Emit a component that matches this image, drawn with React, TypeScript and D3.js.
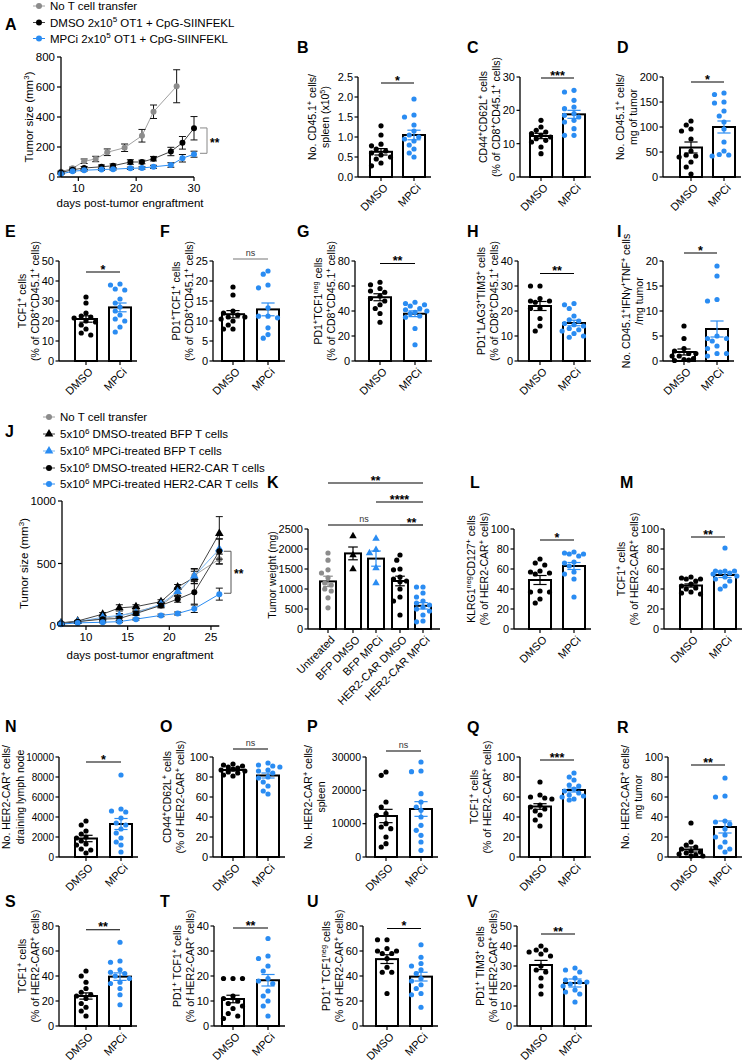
import React from 'react';
import * as d3 from 'd3';

const FONT = '"Liberation Sans", Arial, Helvetica, sans-serif';
const BLUE = '#2a8cf2';
const GRAY = '#8c8c8c';
const BLACK = '#000000';

// ---------------- Panel A (OT1 tumor growth) ----------------
const aDaysNoT = [7, 9, 11, 13, 15, 18, 21, 23, 27];
const aNoT = [35, 58, 105, 120, 165, 195, 275, 435, 605];
const aNoTErr = [5, 8, 15, 18, 22, 25, 42, 45, 110];
const aDays = [7, 9, 11, 14, 16, 19, 21, 23, 26, 28, 30];
const aDmso = [30, 48, 60, 68, 75, 100, 100, 122, 170, 228, 325];
const aDmsoErr = [5, 6, 10, 12, 12, 15, 12, 15, 28, 42, 78];
const aMpci = [20, 38, 45, 50, 52, 58, 60, 68, 80, 125, 152];
const aMpciErr = [3, 5, 6, 6, 6, 8, 8, 10, 15, 25, 20];
const aYTicks = [0, 200, 400, 600, 800];
const aXTicks = [10, 20, 30];
const aLegend = ['No T cell transfer', 'DMSO 2x10^{5} OT1 + CpG-SIINFEKL', 'MPCi 2x10^{5} OT1 + CpG-SIINFEKL'];

// ---------------- Panel J (CAR-T tumor growth) ----------------
const jDays = [7, 9, 12, 14, 16, 19, 21, 23, 26];
const jNoT = [25, 35, 60, 80, 115, 165, 265, 405, 535];
const jNoTErr = [5, 5, 10, 15, 15, 20, 30, 50, 40];
const jBfpDmso = [25, 40, 95, 145, 155, 195, 312, 388, 740];
const jBfpDmsoErr = [5, 5, 12, 25, 15, 15, 20, 50, 135];
const jBfpMpci = [20, 35, 70, 85, 105, 175, 275, 400, 615];
const jBfpMpciErr = [5, 5, 10, 15, 15, 15, 30, 60, 80];
const jCarDmso = [20, 35, 55, 60, 100, 165, 215, 270, 598];
const jCarDmsoErr = [5, 5, 10, 15, 15, 15, 25, 95, 100];
const jCarMpci = [15, 25, 30, 35, 55, 85, 100, 138, 255];
const jCarMpciErr = [3, 5, 5, 8, 8, 10, 12, 30, 48];
const jYTicks = [0, 500, 1000];
const jXTicks = [10, 15, 20, 25];
const jLegend = [
  'No T cell transfer',
  '5x10^{6} DMSO-treated BFP T cells',
  '5x10^{6} MPCi-treated BFP T cells',
  '5x10^{6} DMSO-treated HER2-CAR T cells',
  '5x10^{6} MPCi-treated HER2-CAR T cells',
];

// ---------------- Two-group scatter bar panels ----------------
const groupNames = ['DMSO', 'MPCi'];

const bDmso = [1.28, 1.05, 0.82, 0.78, 0.7, 0.65, 0.6, 0.55, 0.5, 0.45, 0.35, 0.28];
const bMpci = [1.95, 1.55, 1.5, 1.3, 1.15, 1.05, 1.0, 0.95, 0.9, 0.8, 0.7, 0.6, 0.5];
const bMean = [0.63, 1.05];
const bSem = [0.08, 0.12];
const bTicks = [0, 0.5, 1.0, 1.5, 2.0, 2.5];

const cDmso = [17, 15, 14, 13.5, 13, 12.5, 12, 11.5, 11, 10.5, 9, 7];
const cMpci = [26, 25.5, 23, 21, 20.5, 19, 18.5, 18, 17, 16.5, 14.5, 12.5, 12.5];
const cMean = [12.3, 18.8];
const cSem = [0.8, 1.2];
const cTicks = [0, 10, 20, 30];

const dDmso = [112, 104, 96, 92, 76, 52, 44, 42, 40, 30, 6, 20];
const dMpci = [168, 165, 150, 148, 132, 122, 110, 96, 70, 52, 45, 44, 42];
const dMean = [59, 100];
const dSem = [11, 12];
const dTicks = [0, 50, 100, 150, 200];

const eDmso = [32, 29, 24, 22.5, 22, 21.5, 20, 19.5, 18, 16, 14, 13];
const eMpci = [38.5, 38, 36, 35.5, 31, 29, 27, 25, 23, 21, 20, 17, 14.5];
const eMean = [21, 26.8];
const eSem = [1.6, 2.2];
const eTicks = [0, 10, 20, 30, 40, 50];

const fDmso = [18.5, 16.5, 12.5, 12, 11.5, 11, 11, 10.5, 10, 9, 8, 8];
const fMpci = [22.5, 21.7, 19, 18.3, 13.3, 11.2, 11.2, 10.8, 8.3, 6.6, 5.7];
const fMean = [11.7, 12.9];
const fSem = [0.9, 1.6];
const fTicks = [0, 5, 10, 15, 20, 25];

const gDmso = [63, 61, 58, 56, 55, 52, 50, 48, 45, 42, 38, 31];
const gMpci = [47, 46, 45, 44, 42, 41, 40, 39, 38, 36, 35, 26, 13];
const gMean = [51, 37.8];
const gSem = [2.8, 2.3];
const gTicks = [0, 20, 40, 60, 80];

const hDmso = [30, 30, 25, 24, 24, 23.5, 21, 21, 17, 14, 12];
const hMpci = [23, 22.5, 21, 18, 16.5, 16, 15, 14.5, 14, 13, 12.5, 12, 11, 10, 9.5];
const hMean = [22, 15.2];
const hSem = [1.8, 1.1];
const hTicks = [0, 10, 20, 30, 40];

const iDmso = [7, 4.5, 2.5, 2, 1.5, 1.5, 1, 1, 0.5, 0.3, 0.2, 0.1];
const iMpci = [19, 17, 12.3, 12, 5, 4.5, 4.5, 4, 3, 2.5, 1.5, 1.5, 1];
const iMean = [1.8, 6.4];
const iSem = [0.6, 1.6];
const iTicks = [0, 5, 10, 15, 20];

const lDmso = [70, 66, 64, 58, 57, 56, 55, 37, 37, 30, 26, 38];
const lMpci = [77, 76, 75, 75, 73, 67, 66, 63, 57, 55, 50, 32];
const lMean = [49, 63];
const lSem = [4.5, 3.5];

const mDmso = [52, 51, 50, 50, 48, 45, 43, 41, 40, 37, 36, 35];
const mMpci = [81, 58, 58, 58, 57, 56, 55, 53, 52, 50, 48, 43, 40];
const mMean = [43.5, 54];
const mSem = [1.6, 2.5];
const pct100Ticks = [0, 20, 40, 60, 80, 100];

const nDmso = [3600, 3200, 2600, 2300, 2000, 1900, 1600, 1300, 1200, 800, 700, 400];
const nMpci = [8200, 4800, 4600, 4500, 3900, 3400, 3200, 2800, 2400, 1900, 1500, 1200, 500];
const nMean = [1850, 3300];
const nSem = [320, 550];
const nTicks = [0, 2000, 4000, 6000, 8000, 10000];

const oDmso = [93, 92, 91, 90, 89, 88, 87, 86, 85, 84, 82, 81];
const oMpci = [94, 92, 91, 90, 87, 86, 84, 80, 79, 75, 71, 66, 63];
const oMean = [87, 81.5];
const oSem = [1, 2.5];

const pDmso = [25500, 24500, 16500, 15000, 13000, 12500, 10000, 9000, 8500, 6000, 4000, 3000];
const pMpci = [28500, 25800, 25600, 19000, 16500, 15000, 14000, 12000, 9500, 8000, 6500, 4500, 2000];
const pMean = [12300, 14400];
const pSem = [2000, 2200];
const pTicks = [0, 10000, 20000, 30000];

const qDmso = [75, 62, 60, 59, 58, 52, 50, 48, 46, 42, 37, 31];
const qMpci = [84, 80, 77, 72, 71, 68, 66, 64, 62, 61, 60, 58, 57];
const qMean = [50.5, 67];
const qSem = [2.8, 2];

const rDmso = [34, 15, 12, 10, 8, 6, 5, 4, 3, 2, 1, 1];
const rMpci = [79, 61, 60, 36, 35, 33, 28, 22, 20, 15, 10, 8, 5];
const rMean = [7.5, 30];
const rSem = [2.6, 6];

const sDmso = [44, 40, 35, 30, 27, 25, 24, 22, 18, 15, 12, 8];
const sMpci = [67, 52, 51, 45, 43, 42, 40, 38, 35, 34, 30, 25, 17];
const sMean = [24, 39.5];
const sSem = [2.5, 3];
const sTicks = [0, 20, 40, 60, 80];

const tDmso = [19, 19, 19, 12, 11, 10, 9, 8, 7, 5, 4, 3];
const tMpci = [35, 28, 27, 24, 22, 19, 18, 17, 14, 12, 10, 8, 4];
const tMean = [10.8, 18.3];
const tSem = [1.5, 2.3];
const tTicks = [0, 10, 20, 30, 40];

const uDmso = [69, 69, 62, 60, 60, 58, 58, 54, 47, 43, 43, 26];
const uMpci = [65, 55, 50, 48, 45, 42, 38, 36, 33, 30, 26, 25, 15];
const uMean = [53.5, 39.5];
const uSem = [3.5, 3.5];
const uTicks = [0, 20, 40, 60, 80];

const vDmso = [40, 38, 38, 37, 36, 35, 30, 28, 27, 24, 20, 16];
const vMpci = [29, 28, 27, 24, 23, 22, 22, 21, 20, 18, 17, 16, 12];
const vMean = [30.5, 21.5];
const vSem = [2.3, 2];
const vTicks = [0, 10, 20, 30, 40, 50];

// ---------------- Panel K (tumor weight) ----------------
const kNames = ['Untreated', 'BFP DMSO', 'BFP MPCi', 'HER2-CAR DMSO', 'HER2-CAR MPCi'];
const kUntreated = [1900, 1720, 1480, 1400, 1280, 1150, 1100, 1000, 950, 780, 530];
const kBfpDmso = [2320, 1850, 1500];
const kBfpMpci = [2260, 1980, 1900, 1520, 1150];
const kCarDmso = [1850, 1720, 1500, 1480, 1300, 1250, 1200, 1180, 1000, 800, 700, 350];
const kCarMpci = [1050, 1050, 900, 800, 700, 650, 600, 550, 500, 450, 350, 200, 180];
const kMean = [1190, 1890, 1760, 1200, 580];
const kSem = [130, 160, 190, 120, 80];
const kTicks = [0, 500, 1000, 1500, 2000, 2500];

// ---------------- helpers ----------------
type Shape = 'circle' | 'triangle';
type Group = { name: string; values: number[]; mean: number; sem: number; color: string; shape: Shape };
type Sig = { from: number; to: number; value: number; text: string; color?: string };
type BarCfg = {
  id: string; lx: number; ly: number; x0: number; zero: number; centers: number[]; barW: number;
  max: number; ticks: number[]; fmt?: (v: number) => string; ylab: string[]; extra?: number; tickFs?: number;
  groups: Group[]; sigs: Sig[];
};

function textWidth(s: string, fs: number) {
  let w = 0;
  for (const ch of s) w += ch === '.' ? 0.278 : 0.556;
  return w * fs;
}

function Rich({ s, fs }: { s: string; fs: number }) {
  const parts: { t: string; sup: boolean }[] = [];
  const re = /\^\{([^}]*)\}/g;
  let last = 0;
  let m: RegExpExecArray | null;
  while ((m = re.exec(s))) {
    if (m.index > last) parts.push({ t: s.slice(last, m.index), sup: false });
    parts.push({ t: m[1], sup: true });
    last = re.lastIndex;
  }
  if (last < s.length) parts.push({ t: s.slice(last), sup: false });
  const shift = fs * 0.38;
  let raised = false;
  return (
    <>
      {parts.map((p, i) => {
        let dy = 0;
        if (p.sup && !raised) { dy = -shift; raised = true; }
        else if (!p.sup && raised) { dy = shift; raised = false; }
        return (
          <tspan key={i} dy={dy || undefined} fontSize={p.sup ? fs * 0.7 : undefined}>
            {p.t}
          </tspan>
        );
      })}
    </>
  );
}

function swarm(vals: number[], y: (v: number) => number, maxOff: number, minDist: number) {
  const order = vals.map((_, i) => i).sort((a, b) => vals[b] - vals[a]);
  const placed: { dx: number; py: number }[] = [];
  const out: number[] = new Array(vals.length).fill(0);
  const step = maxOff / 2;
  const cands = [0, -step, step, -maxOff, maxOff, -maxOff * 1.25, maxOff * 1.25];
  for (const i of order) {
    const py = y(vals[i]);
    let chosen = 0;
    let found = false;
    let best = -1;
    for (const c of cands) {
      const dmin = placed.length ? Math.min(...placed.map((p) => Math.hypot(p.dx - c, p.py - py))) : Infinity;
      if (dmin >= minDist) { chosen = c; found = true; break; }
      if (dmin > best) { best = dmin; chosen = c; }
    }
    if (!found && best < 0) chosen = 0;
    placed.push({ dx: chosen, py });
    out[i] = chosen;
  }
  return out;
}

function Marker({ x, y, shape, color, r }: { x: number; y: number; shape: Shape; color: string; r: number }) {
  if (shape === 'triangle') {
    const p = d3.symbol().type(d3.symbolTriangle).size(r * r * 3.6)();
    return <path d={p || ''} transform={`translate(${x},${y})`} fill={color} />;
  }
  return <circle cx={x} cy={y} r={r} fill={color} />;
}

function PanelLabel({ id, x, y }: { id: string; x: number; y: number }) {
  return (
    <text x={x} y={y} fontSize={16} fontWeight="bold" fill={BLACK}>{id}</text>
  );
}

function BarPanel({ p }: { p: BarCfg }) {
  const top = p.zero - 100;
  const y = d3.scaleLinear().domain([0, p.max]).range([p.zero, top]);
  const xEnd = p.centers[p.centers.length - 1] + 17;
  const fmt = p.fmt || ((v: number) => String(v));
  const tfs = p.tickFs || 11;
  const maxW = Math.max(...p.ticks.map((t) => textWidth(fmt(t), tfs)));
  const fs = 10.5;
  const nl = p.ylab.length;
  const lastBase = p.x0 - 5 - maxW - 2.5 - (p.extra || 0);
  const midY = (p.zero + top) / 2 - (nl > 1 ? 10 : 4);
  const hw = Math.min(11, p.barW / 2) - 1.5;
  return (
    <g>
      <PanelLabel id={p.id} x={p.lx} y={p.ly} />
      {/* bars */}
      {p.groups.map((g, i) => (
        <rect key={'b' + i} x={p.centers[i] - p.barW / 2} y={y(g.mean)} width={p.barW}
          height={p.zero - y(g.mean)} fill="#fff" stroke={BLACK} strokeWidth={2} />
      ))}
      {/* points */}
      {p.groups.map((g, i) => {
        const offs = swarm(g.values, y, hw, 5.6);
        return (
          <g key={'p' + i}>
            {g.values.map((v, j) => (
              <Marker key={j} x={p.centers[i] + offs[j]} y={y(v)} shape={g.shape} color={g.color} r={2.6} />
            ))}
          </g>
        );
      })}
      {/* error bars */}
      {p.groups.map((g, i) => {
        const c = p.centers[i];
        const cw = p.barW * 0.3;
        return (
          <g key={'e' + i} stroke={g.color} strokeWidth={1.2}>
            <line x1={c} x2={c} y1={y(g.mean - g.sem)} y2={y(g.mean + g.sem)} />
            <line x1={c - cw} x2={c + cw} y1={y(g.mean + g.sem)} y2={y(g.mean + g.sem)} />
            <line x1={c - cw} x2={c + cw} y1={y(g.mean - g.sem)} y2={y(g.mean - g.sem)} />
          </g>
        );
      })}
      {/* axes */}
      <line x1={p.x0} x2={p.x0} y1={p.zero} y2={top} stroke={BLACK} strokeWidth={1.3} />
      <line x1={p.x0} x2={xEnd} y1={p.zero} y2={p.zero} stroke={BLACK} strokeWidth={1.3} />
      {p.ticks.map((t) => (
        <g key={'t' + t}>
          <line x1={p.x0 - 3.5} x2={p.x0} y1={y(t)} y2={y(t)} stroke={BLACK} strokeWidth={1.2} />
          <text x={p.x0 - 5} y={y(t)} dy="0.35em" textAnchor="end" fontSize={tfs}>{fmt(t)}</text>
        </g>
      ))}
      {p.groups.map((g, i) => (
        <g key={'x' + i}>
          <line x1={p.centers[i]} x2={p.centers[i]} y1={p.zero} y2={p.zero + 4} stroke={BLACK} strokeWidth={1.2} />
          <text transform={`translate(${p.centers[i] + 2},${p.zero + 6}) rotate(-45)`} textAnchor="end"
            dy="0.7em" fontSize={11}>{g.name}</text>
        </g>
      ))}
      {/* y label */}
      {p.ylab.map((s, k) => (
        <text key={'yl' + k} transform={`translate(${lastBase - (nl - 1 - k) * 13.5},${midY}) rotate(-90)`}
          textAnchor="middle" fontSize={fs}>
          <Rich s={s} fs={fs} />
        </text>
      ))}
      {/* significance */}
      {p.sigs.map((s, k) => {
        const ly = y(s.value);
        const x1 = p.centers[s.from];
        const x2 = p.centers[s.to];
        const col = s.color || BLACK;
        const isNs = s.text === 'ns';
        return (
          <g key={'s' + k}>
            <line x1={x1} x2={x2} y1={ly} y2={ly} stroke={col} strokeWidth={1.2} />
            <text x={(x1 + x2) / 2} y={isNs ? ly - 3 : ly + 1.5} textAnchor="middle"
              fontSize={isNs ? 9 : 12.5} fontWeight={isNs ? 'normal' : 'bold'} fill={isNs ? '#333' : BLACK}>
              {s.text}
            </text>
          </g>
        );
      })}
    </g>
  );
}

type Series = { days: number[]; vals: number[]; errs: number[]; color: string; lineColor: string; shape: Shape };
type LineCfg = {
  id: string; lx: number; ly: number; xDomain: number[]; xRange: number[]; yDomain: number[]; yRange: number[];
  xTicks: number[]; yTicks: number[]; series: Series[]; ylab: string; ylabX: number; xlabY: number; xlabX: number;
  legend: string[]; legendY: number[]; legendX: number;
  bracket: { v1: number; v2: number; x: number; text: string; color: string };
};

function LinePanel({ c }: { c: LineCfg }) {
  const x = d3.scaleLinear().domain(c.xDomain).range(c.xRange);
  const y = d3.scaleLinear().domain(c.yDomain).range(c.yRange);
  const line = d3.line<number>();
  const zero = c.yRange[0];
  const topY = c.yRange[1];
  const b = c.bracket;
  return (
    <g>
      <PanelLabel id={c.id} x={c.lx} y={c.ly} />
      {/* legend */}
      {c.legend.map((s, i) => {
        const ser = c.series[i];
        const ly = c.legendY[i];
        return (
          <g key={'lg' + i}>
            <line x1={c.legendX - 6} x2={c.legendX + 6} y1={ly} y2={ly} stroke={ser.lineColor} strokeWidth={1} />
            <Marker x={c.legendX} y={ly} shape={ser.shape} color={ser.color} r={3} />
            <text x={c.legendX + 11} y={ly} dy="0.35em" fontSize={11.5}><Rich s={s} fs={11.5} /></text>
          </g>
        );
      })}
      {/* series */}
      {c.series.map((s, i) => {
        const pts: [number, number][] = s.days.map((d, j) => [x(d), y(s.vals[j])]);
        return (
          <g key={'s' + i}>
            <path d={line(pts) || ''} fill="none" stroke={s.lineColor} strokeWidth={1} />
            {s.days.map((d, j) => (
              <g key={j} stroke="#111" strokeWidth={1}>
                <line x1={x(d)} x2={x(d)} y1={y(s.vals[j] - s.errs[j])} y2={y(s.vals[j] + s.errs[j])} />
                <line x1={x(d) - 3.5} x2={x(d) + 3.5} y1={y(s.vals[j] + s.errs[j])} y2={y(s.vals[j] + s.errs[j])} />
                <line x1={x(d) - 3.5} x2={x(d) + 3.5} y1={y(s.vals[j] - s.errs[j])} y2={y(s.vals[j] - s.errs[j])} />
              </g>
            ))}
            {s.days.map((d, j) => (
              <Marker key={'m' + j} x={x(d)} y={y(s.vals[j])} shape={s.shape} color={s.color} r={3} />
            ))}
          </g>
        );
      })}
      {/* axes */}
      <line x1={c.xRange[0]} x2={c.xRange[0]} y1={zero} y2={topY} stroke={BLACK} strokeWidth={1.3} />
      <line x1={c.xRange[0]} x2={c.xRange[1]} y1={zero} y2={zero} stroke={BLACK} strokeWidth={1.3} />
      {c.yTicks.map((t) => (
        <g key={'yt' + t}>
          <line x1={c.xRange[0] - 4} x2={c.xRange[0]} y1={y(t)} y2={y(t)} stroke={BLACK} strokeWidth={1.2} />
          <text x={c.xRange[0] - 6} y={y(t)} dy="0.35em" textAnchor="end" fontSize={11.5}>{t}</text>
        </g>
      ))}
      {c.xTicks.map((t) => (
        <g key={'xt' + t}>
          <line x1={x(t)} x2={x(t)} y1={zero} y2={zero + 4} stroke={BLACK} strokeWidth={1.2} />
          <text x={x(t)} y={zero + 15} textAnchor="middle" fontSize={11.5}>{t}</text>
        </g>
      ))}
      <text x={c.xlabX} y={c.xlabY} textAnchor="middle" fontSize={11.5}>days post-tumor engraftment</text>
      <text transform={`translate(${c.ylabX},${(zero + topY) / 2}) rotate(-90)`} textAnchor="middle" fontSize={11.5}>
        <Rich s={c.ylab} fs={11.5} />
      </text>
      {/* bracket */}
      <g stroke={b.color} strokeWidth={1} fill="none">
        <line x1={b.x} x2={b.x} y1={y(b.v1)} y2={y(b.v2)} />
        <line x1={b.x - 7} x2={b.x} y1={y(b.v1)} y2={y(b.v1)} />
        <line x1={b.x - 7} x2={b.x} y1={y(b.v2)} y2={y(b.v2)} />
      </g>
      <text x={b.x + 3} y={(y(b.v1) + y(b.v2)) / 2 + 6} fontSize={12} fontWeight="bold">{b.text}</text>
    </g>
  );
}

function two(d: number[], m: number[], mean: number[], sem: number[]): Group[] {
  return [
    { name: groupNames[0], values: d, mean: mean[0], sem: sem[0], color: BLACK, shape: 'circle' },
    { name: groupNames[1], values: m, mean: mean[1], sem: sem[1], color: BLUE, shape: 'circle' },
  ];
}

const cd8 = '(% of CD8^{+}CD45.1^{+} cells)';
const her2 = '(% of HER2-CAR^{+} cells)';

const barPanels: BarCfg[] = [
  { id: 'B', lx: 297, ly: 53, x0: 358, zero: 177, centers: [381, 414], barW: 22, max: 2.5, ticks: bTicks,
    fmt: (v) => v.toFixed(1), ylab: ['No. CD45.1^{+} cells/', 'spleen (x10^{5})'], extra: 6,
    groups: two(bDmso, bMpci, bMean, bSem), sigs: [{ from: 0, to: 1, value: 2.35, text: '*' }] },
  { id: 'C', lx: 467, ly: 53, x0: 520, zero: 177, centers: [541, 574], barW: 22, max: 30, ticks: cTicks,
    ylab: ['CD44^{+}CD62L^{+} cells', cd8],
    groups: two(cDmso, cMpci, cMean, cSem), sigs: [{ from: 0, to: 1, value: 29.7, text: '***' }] },
  { id: 'D', lx: 617, ly: 53, x0: 663, zero: 177, centers: [691, 724], barW: 22, max: 200, ticks: dTicks,
    ylab: ['No. CD45.1^{+} cells/', 'mg of tumor'],
    groups: two(dDmso, dMpci, dMean, dSem), sigs: [{ from: 0, to: 1, value: 190, text: '*' }] },

  { id: 'E', lx: 5, ly: 237, x0: 59, zero: 361, centers: [86, 120], barW: 22, max: 50, ticks: eTicks,
    ylab: ['TCF1^{+} cells', cd8],
    groups: two(eDmso, eMpci, eMean, eSem), sigs: [{ from: 0, to: 1, value: 44.5, text: '*' }] },
  { id: 'F', lx: 160, ly: 237, x0: 213, zero: 361, centers: [233, 268], barW: 22, max: 25, ticks: fTicks,
    ylab: ['PD1^{+}TCF1^{+} cells', cd8],
    groups: two(fDmso, fMpci, fMean, fSem), sigs: [{ from: 0, to: 1, value: 25.5, text: 'ns', color: '#777' }] },
  { id: 'G', lx: 297, ly: 237, x0: 355, zero: 361, centers: [380, 415], barW: 22, max: 80, ticks: gTicks,
    ylab: ['PD1^{+}TCF1^{neg} cells', cd8],
    groups: two(gDmso, gMpci, gMean, gSem), sigs: [{ from: 0, to: 1, value: 78, text: '**' }] },
  { id: 'H', lx: 467, ly: 237, x0: 518, zero: 361, centers: [540, 574], barW: 22, max: 40, ticks: hTicks,
    ylab: ['PD1^{+}LAG3^{+}TIM3^{+} cells', cd8],
    groups: two(hDmso, hMpci, hMean, hSem), sigs: [{ from: 0, to: 1, value: 35, text: '**' }] },
  { id: 'I', lx: 617, ly: 237, x0: 663, zero: 361, centers: [684, 717], barW: 22, max: 20, ticks: iTicks,
    ylab: ['No. CD45.1^{+}IFNγ^{+}TNF^{+} cells', '/mg tumor'],
    groups: two(iDmso, iMpci, iMean, iSem), sigs: [{ from: 0, to: 1, value: 21.6, text: '*' }] },

  { id: 'K', lx: 267, ly: 488, x0: 308, zero: 629, centers: [328, 353, 376, 400, 423], barW: 16, max: 2500, ticks: kTicks,
    ylab: ['Tumor weight (mg)'],
    groups: [
      { name: kNames[0], values: kUntreated, mean: kMean[0], sem: kSem[0], color: GRAY, shape: 'circle' },
      { name: kNames[1], values: kBfpDmso, mean: kMean[1], sem: kSem[1], color: BLACK, shape: 'triangle' },
      { name: kNames[2], values: kBfpMpci, mean: kMean[2], sem: kSem[2], color: BLUE, shape: 'triangle' },
      { name: kNames[3], values: kCarDmso, mean: kMean[3], sem: kSem[3], color: BLACK, shape: 'circle' },
      { name: kNames[4], values: kCarMpci, mean: kMean[4], sem: kSem[4], color: BLUE, shape: 'circle' },
    ],
    sigs: [
      { from: 0, to: 4, value: 3650, text: '**' },
      { from: 2, to: 4, value: 3175, text: '****' },
      { from: 0, to: 3, value: 2600, text: 'ns' },
      { from: 3, to: 4, value: 2600, text: '**' },
    ] },
  { id: 'L', lx: 470, ly: 488, x0: 514, zero: 629, centers: [540, 574], barW: 22, max: 100, ticks: pct100Ticks,
    ylab: ['KLRG1^{neg}CD127^{+} cells', her2],
    groups: two(lDmso, lMpci, lMean, lSem), sigs: [{ from: 0, to: 1, value: 89, text: '*' }] },
  { id: 'M', lx: 620, ly: 488, x0: 664, zero: 629, centers: [691, 725], barW: 22, max: 100, ticks: pct100Ticks,
    ylab: ['TCF1^{+} cells', her2],
    groups: two(mDmso, mMpci, mMean, mSem), sigs: [{ from: 0, to: 1, value: 92, text: '**' }] },

  { id: 'N', lx: 5, ly: 732, x0: 59, zero: 857, centers: [86, 121], barW: 22, max: 10000, ticks: nTicks, tickFs: 10,
    ylab: ['No. HER2-CAR^{+} cells/', 'draining lymph node'],
    groups: two(nDmso, nMpci, nMean, nSem), sigs: [{ from: 0, to: 1, value: 9500, text: '*' }] },
  { id: 'O', lx: 160, ly: 732, x0: 213, zero: 857, centers: [233, 268], barW: 22, max: 100, ticks: pct100Ticks,
    ylab: ['CD44^{+}CD62L^{+} cells', her2], extra: 3,
    groups: two(oDmso, oMpci, oMean, oSem), sigs: [{ from: 0, to: 1, value: 108, text: 'ns' }] },
  { id: 'P', lx: 307, ly: 732, x0: 366, zero: 857, centers: [386, 421], barW: 22, max: 30000, ticks: pTicks, tickFs: 10.5,
    ylab: ['No. HER2-CAR^{+} cells/', 'spleen'], extra: 4,
    groups: two(pDmso, pMpci, pMean, pSem), sigs: [{ from: 0, to: 1, value: 31800, text: 'ns' }] },
  { id: 'Q', lx: 467, ly: 733, x0: 520, zero: 857, centers: [540, 574], barW: 22, max: 100, ticks: pct100Ticks,
    ylab: ['TCF1^{+} cells', her2], extra: 3,
    groups: two(qDmso, qMpci, qMean, qSem), sigs: [{ from: 0, to: 1, value: 97, text: '***' }] },
  { id: 'R', lx: 617, ly: 733, x0: 668, zero: 857, centers: [691, 725], barW: 22, max: 100, ticks: pct100Ticks,
    ylab: ['No. HER2-CAR^{+} cells/', 'mg tumor'],
    groups: two(rDmso, rMpci, rMean, rSem), sigs: [{ from: 0, to: 1, value: 92, text: '**' }] },

  { id: 'S', lx: 5, ly: 907, x0: 59, zero: 1026, centers: [86, 120], barW: 22, max: 80, ticks: sTicks,
    ylab: ['TCF1^{+} cells', her2],
    groups: two(sDmso, sMpci, sMean, sSem), sigs: [{ from: 0, to: 1, value: 77, text: '**' }] },
  { id: 'T', lx: 160, ly: 907, x0: 214, zero: 1026, centers: [233, 268], barW: 22, max: 40, ticks: tTicks,
    ylab: ['PD1^{+} TCF1^{+} cells', her2],
    groups: two(tDmso, tMpci, tMean, tSem), sigs: [{ from: 0, to: 1, value: 39.2, text: '**' }] },
  { id: 'U', lx: 307, ly: 907, x0: 363, zero: 1026, centers: [387, 421], barW: 22, max: 80, ticks: uTicks,
    ylab: ['PD1^{+} TCF1^{neg} cells', her2],
    groups: two(uDmso, uMpci, uMean, uSem), sigs: [{ from: 0, to: 1, value: 78, text: '*' }] },
  { id: 'V', lx: 467, ly: 907, x0: 517, zero: 1026, centers: [541, 575], barW: 22, max: 50, ticks: vTicks,
    ylab: ['PD1^{+} TIM3^{+} cells', her2],
    groups: two(vDmso, vMpci, vMean, vSem), sigs: [{ from: 0, to: 1, value: 46, text: '**' }] },
];

const lineA: LineCfg = {
  id: 'A', lx: 5, ly: 30, xDomain: [7, 30], xRange: [61, 194], yDomain: [0, 800], yRange: [177, 57],
  xTicks: aXTicks, yTicks: aYTicks, ylab: 'Tumor size (mm^{3})', ylabX: 33, xlabX: 130, xlabY: 207,
  legend: aLegend, legendY: [6, 22.5, 38.5], legendX: 39,
  series: [
    { days: aDaysNoT, vals: aNoT, errs: aNoTErr, color: GRAY, lineColor: '#a0a0a0', shape: 'circle' },
    { days: aDays, vals: aDmso, errs: aDmsoErr, color: BLACK, lineColor: '#444', shape: 'circle' },
    { days: aDays, vals: aMpci, errs: aMpciErr, color: BLUE, lineColor: BLUE, shape: 'circle' },
  ],
  bracket: { v1: 327, v2: 158, x: 207, text: '**', color: '#888' },
};

const lineJ: LineCfg = {
  id: 'J', lx: 5, ly: 437, xDomain: [7.12, 26], xRange: [62, 219.3], yDomain: [0, 1000], yRange: [626, 501],
  xTicks: jXTicks, yTicks: jYTicks, ylab: 'Tumor size (mm^{3})', ylabX: 28, xlabX: 140, xlabY: 659,
  legend: jLegend, legendY: [417, 434, 451, 468, 484], legendX: 49,
  series: [
    { days: jDays, vals: jNoT, errs: jNoTErr, color: GRAY, lineColor: '#a0a0a0', shape: 'circle' },
    { days: jDays, vals: jBfpDmso, errs: jBfpDmsoErr, color: BLACK, lineColor: '#444', shape: 'triangle' },
    { days: jDays, vals: jBfpMpci, errs: jBfpMpciErr, color: BLUE, lineColor: '#7ab8f5', shape: 'triangle' },
    { days: jDays, vals: jCarDmso, errs: jCarDmsoErr, color: BLACK, lineColor: '#444', shape: 'circle' },
    { days: jDays, vals: jCarMpci, errs: jCarMpciErr, color: BLUE, lineColor: BLUE, shape: 'circle' },
  ],
  bracket: { v1: 598, v2: 262, x: 231, text: '**', color: '#555' },
};

export default function App() {
  return (
    <svg width={748} height={1062} style={{ position: 'absolute', left: 0, top: 0, background: '#fff' }}
      fontFamily={FONT}>
      <rect x={0} y={0} width={748} height={1062} fill="#fff" />
      <LinePanel c={lineA} />
      <LinePanel c={lineJ} />
      {barPanels.map((p) => <BarPanel key={p.id} p={p} />)}
    </svg>
  );
}
